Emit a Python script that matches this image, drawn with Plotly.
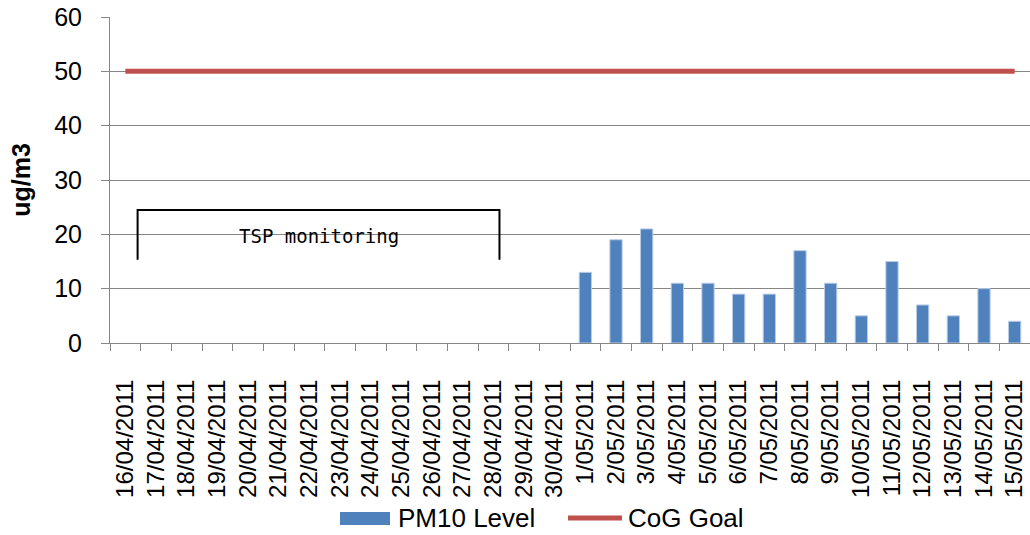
import plotly.graph_objects as go

dates = ["16/04/2011", "17/04/2011", "18/04/2011", "19/04/2011", "20/04/2011",
         "21/04/2011", "22/04/2011", "23/04/2011", "24/04/2011", "25/04/2011",
         "26/04/2011", "27/04/2011", "28/04/2011", "29/04/2011", "30/04/2011",
         "1/05/2011", "2/05/2011", "3/05/2011", "4/05/2011", "5/05/2011",
         "6/05/2011", "7/05/2011", "8/05/2011", "9/05/2011", "10/05/2011",
         "11/05/2011", "12/05/2011", "13/05/2011", "14/05/2011", "15/05/2011"]
pm10 = [None] * 15 + [13, 19, 21, 11, 11, 9, 9, 17, 11, 5, 15, 7, 5, 10, 4]
goal = [50] * 30

series_names = ["PM10 Level", "CoG Goal"]
series_colors = ["#4F81BD", "#C0504D"]

tsp_label = "TSP monitoring"
tsp_start, tsp_end = 0.4, 12.2   # category index positions of bracket
tsp_top, tsp_bottom, tsp_text_y = 24.5, 15.3, 19.7

FONT = "Liberation Sans, Arial, sans-serif"
W, H = 1030, 535
ML, MR, MT, MB = 110, 0, 17, 192
PW, PH = W - ML - MR, H - MT - MB


def px(xp):
    return (xp - ML) / PW


def py(yp):
    return (H - MB - yp) / PH


fig = go.Figure()
fig.add_trace(go.Bar(x=dates, y=pm10, name=series_names[0], showlegend=False,
                     marker=dict(color=series_colors[0], line=dict(color="#B9CDE5", width=1))))
fig.add_trace(go.Scatter(x=dates, y=goal, name=series_names[1], mode="lines", showlegend=False,
                         line=dict(color=series_colors[1], width=5)))

# bracket for TSP monitoring period
fig.add_shape(type="path",
              path=f"M {tsp_start} {tsp_bottom} L {tsp_start} {tsp_top} L {tsp_end} {tsp_top} L {tsp_end} {tsp_bottom}",
              xref="x", yref="y", line=dict(color="black", width=2))
fig.add_annotation(x=(tsp_start + tsp_end) / 2, y=tsp_text_y, xref="x", yref="y",
                   text=tsp_label, showarrow=False,
                   font=dict(family="DejaVu Sans Mono", size=19, color="black"))

# legend (drawn to match the wide legend keys)
fig.add_shape(type="rect", xref="paper", yref="paper",
              x0=px(340), x1=px(390), y0=py(525), y1=py(512),
              fillcolor=series_colors[0], line=dict(width=0))
fig.add_annotation(x=px(396), y=py(518), xref="paper", yref="paper", xanchor="left",
                   yanchor="middle", text=series_names[0], showarrow=False,
                   font=dict(size=26, color="black"))
fig.add_shape(type="line", xref="paper", yref="paper",
              x0=px(568), x1=px(622), y0=py(518), y1=py(518),
              line=dict(color=series_colors[1], width=5))
fig.add_annotation(x=px(626), y=py(518), xref="paper", yref="paper", xanchor="left",
                   yanchor="middle", text=series_names[1], showarrow=False,
                   font=dict(size=26, color="black"))

fig.update_layout(
    width=W, height=H,
    margin=dict(l=ML, r=MR, t=MT, b=MB, autoexpand=False),
    paper_bgcolor="white", plot_bgcolor="white",
    font=dict(family=FONT, size=25, color="black"),
    bargap=0.6,
    showlegend=False,
    xaxis=dict(type="category", tickangle=-90, tickson="boundaries",
               tickmode="array", tickvals=dates, ticktext=dates,
               ticks="outside", ticklen=7, tickcolor="#868686",
               showline=True, linecolor="#868686", linewidth=1,
               showgrid=False, tickfont=dict(size=24), automargin=False,
               ticklabelstandoff=26),
    yaxis=dict(range=[0, 60], dtick=10, ticks="outside", ticklen=8, tickcolor="#868686",
               showline=True, linecolor="#868686", linewidth=1,
               showgrid=True, gridcolor="#868686", gridwidth=1, zeroline=False,
               tickfont=dict(size=25), automargin=False, ticklabelstandoff=14,
               title=dict(text="<b>ug/m3</b>", font=dict(size=25), standoff=16)),
)

fig.write_html("out.html", config={"displayModeBar": False},
               post_script="document.body.style.margin='0';document.body.style.overflow='hidden';")
